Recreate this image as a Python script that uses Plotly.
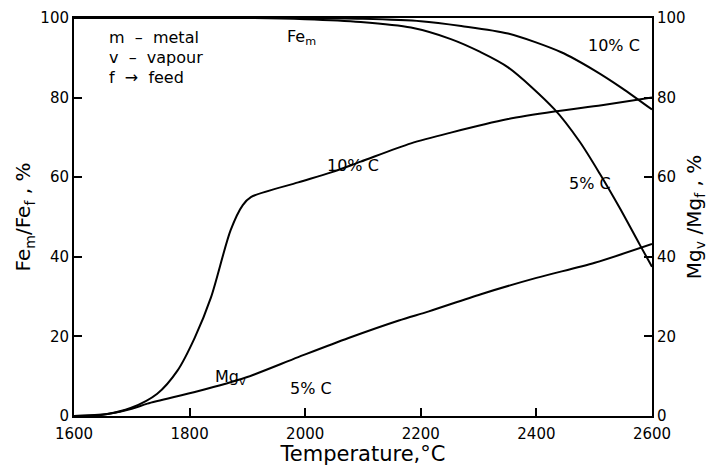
import plotly.graph_objects as go

# Fe in metal (left axis), % of feed
fe10_T = [1600, 1800, 2000, 2100, 2200, 2270, 2351, 2443, 2501, 2548, 2600]
fe10_v = [100, 100, 100, 99.8, 99.2, 98.0, 96.1, 91.4, 86.8, 82.4, 77.0]
fe5_T = [1600, 1800, 1900, 2000, 2096, 2183, 2252, 2301, 2351, 2431, 2475, 2510, 2544, 2579, 2600]
fe5_v = [100, 100, 100, 99.7, 99.0, 97.6, 94.7, 91.6, 87.6, 77.1, 68.9, 60.8, 52.3, 43.0, 37.5]

# Mg in vapour (right axis), % of feed
mg10_T = [1600, 1657, 1698, 1744, 1779, 1809, 1837, 1871, 1892, 1906, 1988, 2045, 2096, 2183, 2252, 2351, 2431, 2513, 2600]
mg10_v = [0, 0.5, 2.0, 5.6, 11.4, 19.7, 29.8, 46.7, 53.0, 55.0, 58.7, 61.2, 63.9, 68.5, 71.2, 74.6, 76.5, 78.1, 80.0]
mg5_T = [1600, 1650, 1700, 1727, 1814, 1896, 1988, 2075, 2162, 2214, 2304, 2400, 2501, 2600]
mg5_v = [0, 0.3, 1.8, 3.1, 6.2, 9.6, 14.8, 19.6, 24.0, 26.3, 30.6, 34.7, 38.5, 43.2]

x_ticks = [1600, 1800, 2000, 2200, 2400, 2600]
y_ticks = [0, 20, 40, 60, 80, 100]

FONT = "DejaVu Sans"
NB = "\u00a0"
line = dict(color="black", width=2, shape="spline", smoothing=0.8)

fig = go.Figure()
fig.add_trace(go.Scatter(x=fe10_T, y=fe10_v, mode="lines", line=line, yaxis="y"))
fig.add_trace(go.Scatter(x=fe5_T, y=fe5_v, mode="lines", line=line, yaxis="y"))
fig.add_trace(go.Scatter(x=mg10_T, y=mg10_v, mode="lines", line=line, yaxis="y2"))
fig.add_trace(go.Scatter(x=mg5_T, y=mg5_v, mode="lines", line=line, yaxis="y2"))

annots = [
    dict(x=1657, y=95, text="m" + NB * 2 + "\u2013" + NB * 2 + "metal", xanchor="left"),
    dict(x=1657, y=90, text="v" + NB * 2 + "\u2013" + NB * 2 + "vapour", xanchor="left"),
    dict(x=1657, y=85, text="f" + NB * 2 + "\u2192" + NB * 2 + "feed", xanchor="left"),
    dict(x=1965, y=95, text="Fe<sub>m</sub>", xanchor="left"),
    dict(x=2534, y=93, text="10% C", xanchor="center"),
    dict(x=2083, y=63, text="10% C", xanchor="center"),
    dict(x=2492, y=58.5, text="5% C", xanchor="center"),
    dict(x=1840, y=9.8, text="Mg<sub>v</sub>", xanchor="left"),
    dict(x=2010, y=7, text="5% C", xanchor="center"),
]
for a in annots:
    fig.add_annotation(x=a["x"], y=a["y"], text=a["text"], xanchor=a["xanchor"],
                       yanchor="middle", showarrow=False, xref="x", yref="y",
                       font=dict(family=FONT, size=16, color="black"))

axis_common = dict(showgrid=False, zeroline=False, showline=True, linecolor="black",
                   linewidth=2, ticks="inside", ticklen=8, tickwidth=1.5, tickcolor="black",
                   automargin=False,
                   tickfont=dict(family=FONT, size=15, color="black"))

fig.update_layout(
    width=716, height=458,
    margin=dict(l=66, r=72, t=10, b=50),
    paper_bgcolor="white", plot_bgcolor="white",
    showlegend=False,
    xaxis=dict(range=[1600, 2600], tickvals=x_ticks, mirror=True, ticklabelstandoff=3,
               title=dict(text="Temperature,\u00b0C", font=dict(family=FONT, size=21, color="black"), standoff=0),
               **axis_common),
    yaxis=dict(range=[0, 100], tickvals=y_ticks,
               title=dict(text="Fe<sub>m</sub>/Fe<sub>f</sub> , %", font=dict(family=FONT, size=20, color="black"), standoff=4),
               **axis_common),
    yaxis2=dict(range=[0, 100], tickvals=y_ticks, overlaying="y", side="right",
                title=dict(text="Mg<sub>v</sub> /Mg<sub>f</sub> , %", font=dict(family=FONT, size=20, color="black"), standoff=2),
                **axis_common),
)

fig.write_html("out.html")
